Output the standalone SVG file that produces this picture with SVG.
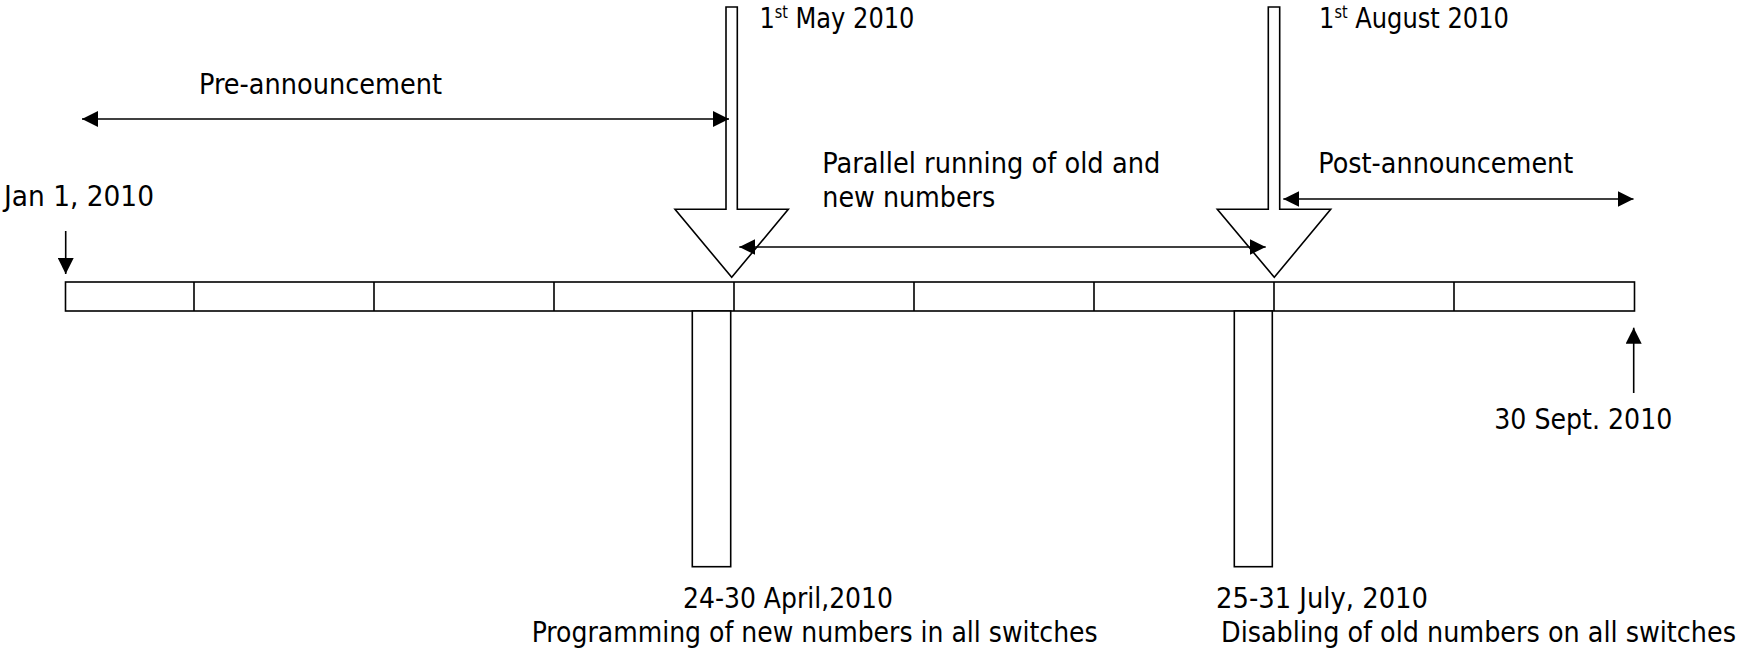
<svg xmlns="http://www.w3.org/2000/svg" width="1740" height="652" viewBox="0 0 1740 652">
<style>
.shape{fill:#fff;stroke:#000;stroke-width:1.6}
.ln{fill:none;stroke:#000;stroke-width:1.6}
.conn{fill:none;stroke:#000;stroke-width:1.6}
text{font-family:"DejaVu Sans Condensed","DejaVu Sans",sans-serif;font-size:28.5px;fill:#000}
.sup{font-size:17px}
</style>
<defs>
<marker id="ah" viewBox="0 0 16 16" refX="16" refY="8" markerWidth="16" markerHeight="16" markerUnits="userSpaceOnUse" orient="auto-start-reverse">
<path d="M0,0 L16,8 L0,16 z" fill="#000"/>
</marker>
</defs>
<rect width="1740" height="652" fill="#fff"/>
<g id="timeline">
<rect class="shape" x="65.5" y="282" width="1569" height="29"/>
<path class="ln" d="M194,282V311M374,282V311M554,282V311M734,282V311M914,282V311M1094,282V311M1274,282V311M1454,282V311"/>
</g>
<g id="programming-window">
<rect class="shape" x="692.3" y="311" width="38.4" height="255.7"/>
<text x="683" y="608.3" textLength="210" lengthAdjust="spacingAndGlyphs">24-30 April,2010</text>
<text x="531.7" y="641.7" textLength="566" lengthAdjust="spacingAndGlyphs">Programming of new numbers in all switches</text>
</g>
<g id="disabling-window">
<rect class="shape" x="1234.3" y="311" width="38" height="255.7"/>
<text x="1216" y="608.3" textLength="212" lengthAdjust="spacingAndGlyphs">25-31 July, 2010</text>
<text x="1221" y="641.7" textLength="515" lengthAdjust="spacingAndGlyphs">Disabling of old numbers on all switches</text>
</g>
<g id="may-arrow">
<polygon class="shape" points="726,7 737.3,7 737.3,209.3 788.3,209.3 731.7,277.3 675,209.3 726,209.3"/>
<text x="759.4" y="28.3" textLength="155" lengthAdjust="spacingAndGlyphs">1<tspan class="sup" dy="-10">st</tspan><tspan dy="10"> May 2010</tspan></text>
</g>
<g id="aug-arrow">
<polygon class="shape" points="1268.3,7 1279.7,7 1279.7,209.3 1330.7,209.3 1274.3,277.3 1217.3,209.3 1268.3,209.3"/>
<text x="1319" y="28.3" textLength="190" lengthAdjust="spacingAndGlyphs">1<tspan class="sup" dy="-10">st</tspan><tspan dy="10"> August 2010</tspan></text>
</g>
<g id="jan-label">
<text x="4" y="206" textLength="150" lengthAdjust="spacingAndGlyphs">Jan 1, 2010</text>
</g>
<g id="sept-label">
<text x="1494.3" y="429" textLength="178" lengthAdjust="spacingAndGlyphs">30 Sept. 2010</text>
</g>
<g id="pre-announcement">
<text x="199" y="94" textLength="243" lengthAdjust="spacingAndGlyphs">Pre-announcement</text>
</g>
<g id="parallel-running">
<text x="822.3" y="173.3" textLength="338" lengthAdjust="spacingAndGlyphs">Parallel running of old and</text>
<text x="822.3" y="207.3" textLength="173" lengthAdjust="spacingAndGlyphs">new numbers</text>
</g>
<g id="post-announcement">
<text x="1318.3" y="173.3" textLength="255" lengthAdjust="spacingAndGlyphs">Post-announcement</text>
</g>
<g id="connectors">
<line class="conn" x1="82" y1="119" x2="729" y2="119" marker-start="url(#ah)" marker-end="url(#ah)"/>
<line class="conn" x1="739.3" y1="247" x2="1265.7" y2="247" marker-start="url(#ah)" marker-end="url(#ah)"/>
<line class="conn" x1="1283.3" y1="199" x2="1633.5" y2="199" marker-start="url(#ah)" marker-end="url(#ah)"/>
<line class="conn" x1="65.7" y1="231" x2="65.7" y2="274" marker-end="url(#ah)"/>
<line class="conn" x1="1633.7" y1="393" x2="1633.7" y2="327.7" marker-end="url(#ah)"/>
</g>
</svg>
